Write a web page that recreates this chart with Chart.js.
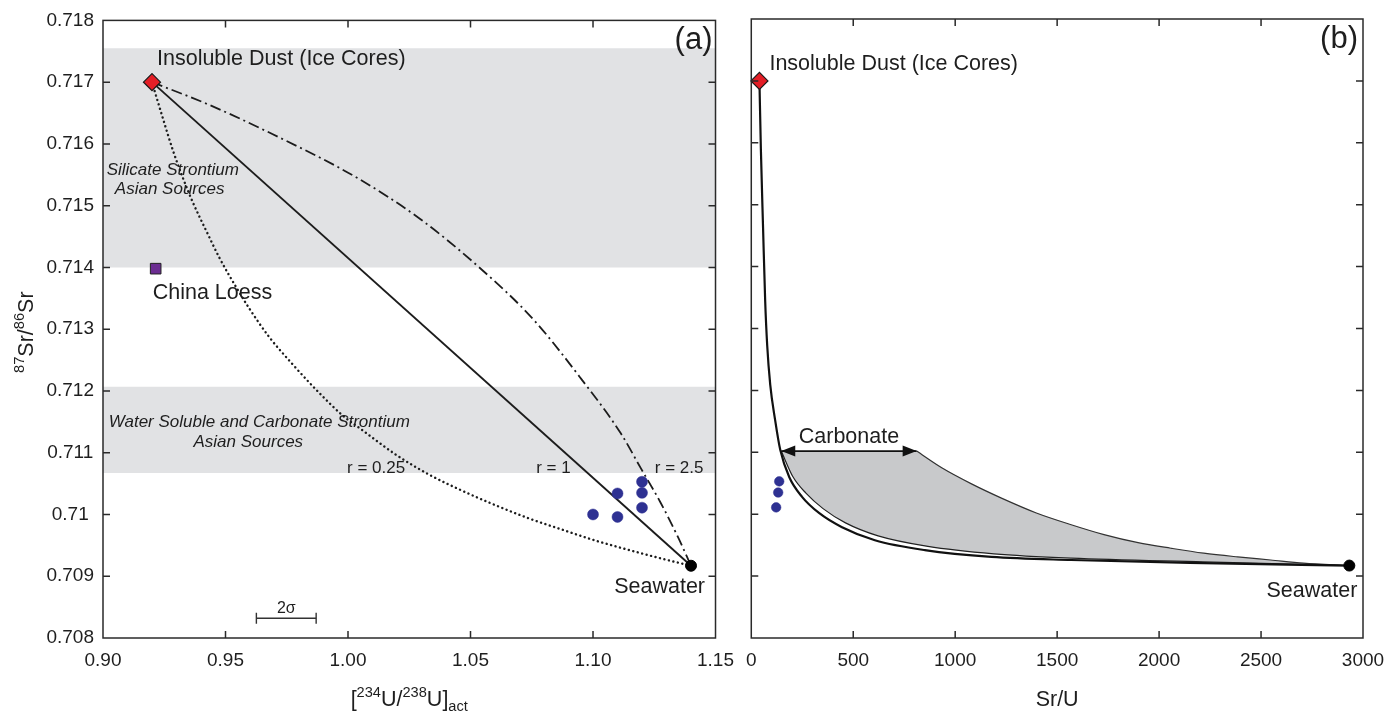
<!DOCTYPE html>
<html>
<head>
<meta charset="utf-8">
<script src="https://cdn.jsdelivr.net/npm/chart.js@4.4.1/dist/chart.umd.min.js"></script>
<style>
  html, body { margin: 0; padding: 0; background: #fff; }
  #wrap { position: relative; width: 1399px; height: 712px; overflow: hidden; }
  #wrap canvas { position: absolute; top: 0; }
</style>
</head>
<body>
<div id="wrap">
  <canvas id="chartA" width="745" height="712" style="left:0"></canvas>
  <canvas id="chartB" width="664" height="712" style="left:735px"></canvas>
</div>
<script>
// Two-panel Sr-U mixing figure. Panel (a): 87Sr/86Sr vs [234U/238U]act,
// panel (b): 87Sr/86Sr vs Sr/U. Frames, inward ticks and labels are drawn
// by a small plugin; everything else goes through the line controller.

const FONT = '"Liberation Sans", Arial, Helvetica, sans-serif';
const INK = "#1e1e1e";
const TICK = 7;

// ---- shared axis ticks ----
const srTicks = [0.708, 0.709, 0.71, 0.711, 0.712, 0.713, 0.714, 0.715, 0.716, 0.717, 0.718];
const uTicks = [0.90, 0.95, 1.00, 1.05, 1.10, 1.15];
const srUTicks = [0, 500, 1000, 1500, 2000, 2500, 3000];

// ---- panel (a) ----
const endNames = ["Insoluble Dust (Ice Cores)", "China Loess", "Seawater"];
const endU = [0.92, 0.9215, 1.14];
const endSr = [0.71700, 0.71398, 0.70917];

const sampleU = [1.10, 1.11, 1.11, 1.12, 1.12, 1.12];
const sampleSr = [0.71000, 0.71034, 0.70996, 0.71053, 0.71035, 0.71011];

// r = 0.25 mixing curve (dotted)
const mixLowU = [0.92, 0.9244, 0.9285, 0.9325, 0.9366, 0.9423, 0.9476, 0.9545, 0.9598, 0.9679,
  0.9772, 0.9870, 0.9976, 1.0057, 1.0195, 1.0329, 1.0463, 1.0602, 1.0736, 1.0870, 1.1008, 1.1142, 1.1276, 1.14];
const mixLowSr = [0.71700, 0.71642, 0.71590, 0.71546, 0.71506, 0.71458, 0.71415, 0.71367, 0.71333, 0.71287,
  0.71244, 0.71202, 0.71161, 0.71137, 0.71097, 0.71065, 0.71039, 0.71015, 0.70994, 0.70976, 0.70958, 0.70943, 0.70929, 0.70917];

// r = 2.5 mixing curve (dash-dot)
const mixHighU = [0.92, 0.9423, 0.9691, 1.0033, 1.0289, 1.0533, 1.0756, 1.0951, 1.1114, 1.1195, 1.1276, 1.1346, 1.14];
const mixHighSr = [0.71700, 0.71665, 0.71616, 0.71546, 0.71480, 0.71401, 0.71316, 0.71220, 0.71131, 0.71075, 0.71019, 0.70964, 0.70917];

const sigmaBarU = [0.9626, 0.9870];
const sigmaBarSr = 0.70832;

const bandSilicate = [0.71400, 0.71755];
const bandCarbonate = [0.71067, 0.71207];

// ---- panel (b) ----
const endSrU = [40, 2933];          // dust, seawater
const endSrB = [0.71700, 0.70917];

const sampleSrU = [137, 132, 122];
const sampleSrB = [0.71053, 0.71035, 0.71011];

const lowerSrU = [40, 47, 58, 68, 78, 93, 117, 142, 186, 249, 332, 445, 606, 851, 1178, 1569, 2219, 2933];
const lowerSr = [0.71700, 0.71590, 0.71460, 0.71346, 0.71273, 0.71209, 0.71152, 0.71104, 0.71060, 0.71028,
  0.71002, 0.70979, 0.70958, 0.70942, 0.70931, 0.70926, 0.70921, 0.70917];

const innerSrU = [147, 205, 268, 352, 462, 622, 866, 1190, 1569, 2219, 2933];
const innerSr = [0.71102, 0.71060, 0.71034, 0.71009, 0.70986, 0.70965, 0.70948, 0.70936, 0.70929, 0.70923, 0.70917];

const upperSrU = [811, 934, 1080, 1227, 1398, 1569, 1730, 1897, 2058, 2219, 2385, 2547, 2708, 2933];
const upperSr = [0.71102, 0.71075, 0.71049, 0.71026, 0.71002, 0.70983, 0.70967, 0.70954, 0.70945, 0.70937,
  0.70931, 0.70926, 0.70921, 0.70917];

const arrowSrU = [147, 811];
const arrowSr = 0.71102;

const zip = (xs, ys) => xs.map((x, i) => ({ x, y: Array.isArray(ys) ? ys[i] : ys }));

function font(size, italic) {
  return (italic ? "italic " : "") + size + "px " + FONT;
}

// text with superscript / subscript runs: parts = [[text, "sup"|"sub"|""], ...]
function drawRich(ctx, parts, x, y, size, align) {
  const small = size * 0.68;
  const widths = parts.map(p => {
    ctx.font = font(p[1] ? small : size);
    return ctx.measureText(p[0]).width;
  });
  const total = widths.reduce((s, w) => s + w, 0);
  let cx = align === "center" ? x - total / 2 : align === "right" ? x - total : x;
  ctx.textAlign = "left";
  parts.forEach((p, i) => {
    ctx.font = font(p[1] ? small : size);
    const dy = p[1] === "sup" ? -size * 0.4 : p[1] === "sub" ? size * 0.25 : 0;
    ctx.fillText(p[0], cx, y + dy);
    cx += widths[i];
  });
}

function decor(cfg) {
  return {
    id: "decor",
    afterDraw(chart) {
      const { ctx, chartArea: a, scales } = chart;
      const sx = scales.x, sy = scales.y;
      ctx.save();
      ctx.strokeStyle = "#2a2a2a";
      ctx.lineWidth = 1.5;
      ctx.strokeRect(a.left, a.top, a.right - a.left, a.bottom - a.top);

      ctx.beginPath();
      sx.ticks.forEach(t => {
        const p = sx.getPixelForValue(t.value);
        if (p - a.left < 2 || a.right - p < 2) return;
        ctx.moveTo(p, a.bottom); ctx.lineTo(p, a.bottom - TICK);
        ctx.moveTo(p, a.top); ctx.lineTo(p, a.top + TICK);
      });
      sy.ticks.forEach(t => {
        const p = sy.getPixelForValue(t.value);
        if (p - a.top < 2 || a.bottom - p < 2) return;
        ctx.moveTo(a.left, p); ctx.lineTo(a.left + TICK, p);
        ctx.moveTo(a.right, p); ctx.lineTo(a.right - TICK, p);
      });
      ctx.stroke();

      if (cfg.arrow) {
        const y = sy.getPixelForValue(cfg.arrow.y);
        const x1 = sx.getPixelForValue(cfg.arrow.x[0]);
        const x2 = sx.getPixelForValue(cfg.arrow.x[1]);
        ctx.fillStyle = "#111";
        ctx.beginPath();
        ctx.moveTo(x1, y); ctx.lineTo(x1 + 14, y - 5.5); ctx.lineTo(x1 + 14, y + 5.5); ctx.closePath();
        ctx.moveTo(x2, y); ctx.lineTo(x2 - 14, y - 5.5); ctx.lineTo(x2 - 14, y + 5.5); ctx.closePath();
        ctx.fill();
      }

      ctx.fillStyle = INK;
      ctx.textBaseline = "alphabetic";
      cfg.labels.forEach(l => {
        ctx.font = font(l.size, l.italic);
        ctx.textAlign = l.align || "left";
        let px, py;
        if (l.corner) {
          px = a.right + l.dx;
          py = a.top + l.dy;
        } else {
          px = sx.getPixelForValue(l.x) + (l.dx || 0);
          py = sy.getPixelForValue(l.y) + (l.dy || 0);
        }
        ctx.fillText(l.text, px, py);
      });

      drawRich(ctx, cfg.xTitle, (a.left + a.right) / 2, a.bottom + 68, 21.5, "center");
      if (cfg.yTitle) {
        ctx.save();
        ctx.translate(a.left - 70, (a.top + a.bottom) / 2 + 3);
        ctx.rotate(-Math.PI / 2);
        drawRich(ctx, cfg.yTitle, 0, 0, 21.5, "center");
        ctx.restore();
      }
      ctx.restore();
    }
  };
}

function markers(points, style, radius, fillColor, edge, edgeWidth) {
  return {
    data: points, showLine: false, fill: false,
    pointStyle: style, pointRadius: radius,
    pointBackgroundColor: fillColor, pointBorderColor: edge, pointBorderWidth: edgeWidth
  };
}

function curve(points, color, width, extra) {
  return Object.assign({
    data: points, showLine: true, fill: false, pointRadius: 0,
    borderColor: color, borderWidth: width, cubicInterpolationMode: "monotone"
  }, extra || {});
}

function scalesFor(xMin, xMax, xTickList, xFormat, showY) {
  return {
    x: {
      type: "linear", min: xMin, max: xMax,
      afterBuildTicks: s => { s.ticks = xTickList.map(v => ({ value: v })); },
      afterFit: s => { s.height = 74; },
      grid: { display: false, drawTicks: false }, border: { display: false },
      ticks: { padding: 11, color: INK, font: { size: 19, family: FONT }, maxRotation: 0, callback: xFormat }
    },
    y: {
      type: "linear", min: 0.708, max: 0.718,
      afterBuildTicks: s => { s.ticks = srTicks.map(v => ({ value: v })); },
      afterFit: s => { s.width = showY ? 103 : 0; },
      grid: { display: false, drawTicks: false }, border: { display: false },
      ticks: {
        display: showY, padding: 9, crossAlign: "center", color: INK,
        font: { size: 19, family: FONT },
        callback: v => String(Number(v.toFixed(3)))
      }
    }
  };
}

const baseOptions = {
  responsive: false, animation: false, events: [],
  plugins: { legend: { display: false }, tooltip: { enabled: false } }
};

// ---------- chart (a) ----------
new Chart(document.getElementById("chartA"), {
  type: "line",
  data: {
    datasets: [
      markers([{ x: endU[0], y: endSr[0] }], "rectRot", 8.5, "#e41e26", "#1a1a1a", 1.2),
      markers([{ x: endU[1], y: endSr[1] }], "rect", 7.5, "#6b2c91", "#222", 1),
      markers([{ x: endU[2], y: endSr[2] }], "circle", 5.5, "#000", "#000", 1),
      markers(zip(sampleU, sampleSr), "circle", 5.5, "#2e3192", "#2e3192", 0.5),
      curve(zip([endU[0], endU[2]], [endSr[0], endSr[2]]), "#1c1c1c", 1.9),
      curve(zip(mixLowU, mixLowSr), "#1c1c1c", 2.4, { borderDash: [0.1, 4.5], borderCapStyle: "round" }),
      curve(zip(mixHighU, mixHighSr), "#1c1c1c", 1.8, { borderDash: [11, 4, 2, 4] }),
      curve(zip(sigmaBarU, sigmaBarSr), "#333", 1.4, {
        pointRadius: 5.5, pointStyle: "line", pointRotation: 90,
        pointBorderColor: "#333", pointBorderWidth: 1.4
      }),
      curve(zip([uTicks[0], uTicks[uTicks.length - 1]], bandSilicate[1]), "rgba(0,0,0,0)", 1,
        { fill: { value: bandSilicate[0] }, backgroundColor: "#e1e2e4", cubicInterpolationMode: "default" }),
      curve(zip([uTicks[0], uTicks[uTicks.length - 1]], bandCarbonate[1]), "rgba(0,0,0,0)", 1,
        { fill: { value: bandCarbonate[0] }, backgroundColor: "#e1e2e4", cubicInterpolationMode: "default" })
    ]
  },
  options: Object.assign({}, baseOptions, {
    layout: { padding: { left: 0, right: 27, top: 19, bottom: 0 } },
    scales: scalesFor(0.90, 1.15, uTicks, v => v.toFixed(2), true)
  }),
  plugins: [decor({
    labels: [
      { text: endNames[0], x: endU[0], y: endSr[0], dx: 5, dy: -17, size: 21.5 },
      { text: endNames[1], x: endU[1], y: endSr[1], dx: -3, dy: 30, size: 21.5 },
      { text: endNames[2], x: endU[2], y: endSr[2], dx: 14, dy: 27, size: 21.5, align: "right" },
      { text: "Silicate Strontium", x: 0.9285, y: 0.71550, size: 17, italic: true, align: "center" },
      { text: "Asian Sources", x: 0.9272, y: 0.71519, size: 17, italic: true, align: "center" },
      { text: "Water Soluble and Carbonate Strontium", x: 0.9638, y: 0.71141, size: 17, italic: true, align: "center" },
      { text: "Asian Sources", x: 0.9593, y: 0.71109, size: 17, italic: true, align: "center" },
      { text: "r = 0.25", x: 0.9996, y: 0.71067, size: 17 },
      { text: "r = 1", x: 1.0768, y: 0.71067, size: 17 },
      { text: "r = 2.5", x: 1.1252, y: 0.71067, size: 17 },
      { text: "2σ", x: (sigmaBarU[0] + sigmaBarU[1]) / 2, y: sigmaBarSr, dy: -5, size: 16, align: "center" },
      { text: "(a)", corner: true, dx: -3, dy: 29, size: 31, align: "right" }
    ],
    xTitle: [["[", ""], ["234", "sup"], ["U/", ""], ["238", "sup"], ["U]", ""], ["act", "sub"]],
    yTitle: [["87", "sup"], ["Sr/", ""], ["86", "sup"], ["Sr", ""]]
  })]
});

// ---------- chart (b) ----------
const dustB = markers([{ x: endSrU[0], y: endSrB[0] }], "rectRot", 8.5, "#e41e26", "#1a1a1a", 1.2);
dustB.clip = false;

new Chart(document.getElementById("chartB"), {
  type: "line",
  data: {
    datasets: [
      dustB,
      markers([{ x: endSrU[1], y: endSrB[1] }], "circle", 5.5, "#000", "#000", 1),
      markers(zip(sampleSrU, sampleSrB), "circle", 4.8, "#2e3192", "#2e3192", 0.5),
      curve(zip(arrowSrU, arrowSr), "#111", 1.8, { cubicInterpolationMode: "default" }),
      curve(zip(lowerSrU, lowerSr), "#111", 2.2),
      curve(zip(innerSrU, innerSr), "#222", 1.2),
      curve(zip(upperSrU, upperSr), "#333", 1.2),
      curve(zip([arrowSrU[0]].concat(upperSrU), [arrowSr].concat(upperSr)), "rgba(0,0,0,0)", 1,
        { fill: 5, backgroundColor: "#c8c9cb", cubicInterpolationMode: "default" })
    ]
  },
  options: Object.assign({}, baseOptions, {
    layout: { padding: { left: 14, right: 36, top: 19, bottom: 0 } },
    scales: scalesFor(0, 3000, srUTicks, v => String(v), false)
  }),
  plugins: [decor({
    arrow: { x: arrowSrU, y: arrowSr },
    labels: [
      { text: endNames[0], x: endSrU[0], y: endSrB[0], dx: 10, dy: -11, size: 21.5 },
      { text: endNames[2], x: endSrU[1], y: endSrB[1], dx: 8, dy: 31, size: 21.5, align: "right" },
      { text: "Carbonate", x: (arrowSrU[0] + arrowSrU[1]) / 2, y: arrowSr, dy: -8, size: 21.5, align: "center" },
      { text: "(b)", corner: true, dx: -5, dy: 29, size: 31, align: "right" }
    ],
    xTitle: [["Sr/U", ""]]
  })]
});
</script>
</body>
</html>
